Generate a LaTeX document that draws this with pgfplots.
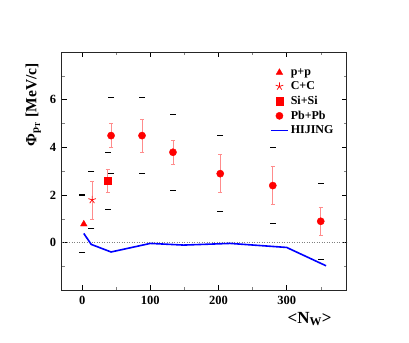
\documentclass[border=0pt]{standalone}
\usepackage{pgfplots}
\pgfplotsset{compat=1.18}
\usepackage{fontspec}
\setmainfont{Liberation Serif}
\begin{document}
\begin{tikzpicture}
\begin{axis}[at={(0,0)},anchor=south west,scale only axis,
 width=285pt,height=238pt,
 xmin=-30,xmax=388,ymin=-2,ymax=8,
 xtick={0,100,200,300},minor xtick={50,150,250,350},
 ytick={0,2,4,6},minor ytick={-1,1,3,5,7},
 tick align=inside,ticks=both,
 major tick length=5pt,minor tick length=3pt,
 every tick/.style={black,line width=0.9pt},
 minor tick style={gray,line width=0.5pt},
 axis line style={line width=1pt,black!85},
 /pgf/number format/assume math mode=true,
 tick label style={font=\bfseries\fontsize{12.5}{12.5}\selectfont},
 xticklabel style={yshift=-2pt},yticklabel style={xshift=-2pt},
 clip=false,
 ylabel={Φ\textsubscript{p\textsubscript{T}} [MeV/c]},
 every axis y label/.style={at={(rel axis cs:-0.1,0.78)},rotate=90,anchor=center,
   font=\bfseries\fontsize{15.5}{15.5}\selectfont},
 xlabel={<N\textsubscript{W}>},
 every axis x label/.style={at={(rel axis cs:0.87,-0.12)},anchor=center,
   font=\bfseries\fontsize{17}{17}\selectfont},
 legend style={draw=none,fill=none,at={(rel axis cs:0.72,0.95)},anchor=north west,
   font=\bfseries\fontsize{12}{12}\selectfont,row sep=1pt,
   legend cell align=left},
 error bars/error bar style={red!45,line width=0.6pt},
 error bars/error mark options={rotate=90,mark size=2pt,red!45,line width=0.6pt},
]
% zero reference line
\addplot[gray,dotted,line width=0.5pt,forget plot] coordinates {(-30,0)(388,0)};
% systematic bands (black dashes)
\addplot[only marks,mark=-,mark size=3pt,black,line width=1.3pt,forget plot] coordinates {
 (0,2.0)(0,-0.4)(13.6,3.0)(13.6,0.6)(37.5,3.8)(37.5,1.4)
 (42.4,6.1)(42.4,2.9)(87.8,6.1)(87.8,2.9)(133,5.4)(133,2.2)
 (202.5,4.5)(202.5,1.3)(279.6,4.0)(279.6,0.8)(350,2.5)(350,-0.7)};
\addplot[only marks,mark=triangle*,mark size=3.8pt,red] coordinates {(2.4,0.78)};
\addlegendentry{p+p}
\addplot[only marks,mark=star,mark size=4pt,red,line width=0.7pt,
 error bars/.cd,y dir=both,y explicit] coordinates {(14.6,1.8) +- (0,0.8)};
\addlegendentry{C+C}
\addplot[only marks,mark=square*,mark size=3.7pt,red,
 error bars/.cd,y dir=both,y explicit] coordinates {(37.5,2.6) +- (0,0.5)};
\addlegendentry{Si+Si}
\addplot[only marks,mark=*,mark size=3.6pt,red,
 error bars/.cd,y dir=both,y explicit] table[y error plus=ep,y error minus=em] {
x y ep em
42.4 4.5 0.5 0.5
87.8 4.5 0.7 0.7
133.2 3.8 0.5 0.5
202.5 2.9 0.8 0.8
279.6 2.4 0.8 0.8
349.9 0.9 0.6 0.6
};
\addlegendentry{Pb+Pb}
\addplot[blue,line width=1.6pt,mark=none] coordinates {
 (2.4,0.39)(13.2,-0.07)(42.4,-0.39)(100,-0.03)(148.8,-0.1)(217,-0.03)(300,-0.2)(357.7,-0.97)};
\addlegendentry{HIJING}
\end{axis}
\useasboundingbox (-61.7pt,-52pt) rectangle (347.3pt,290.3pt);
\end{tikzpicture}
\end{document}
